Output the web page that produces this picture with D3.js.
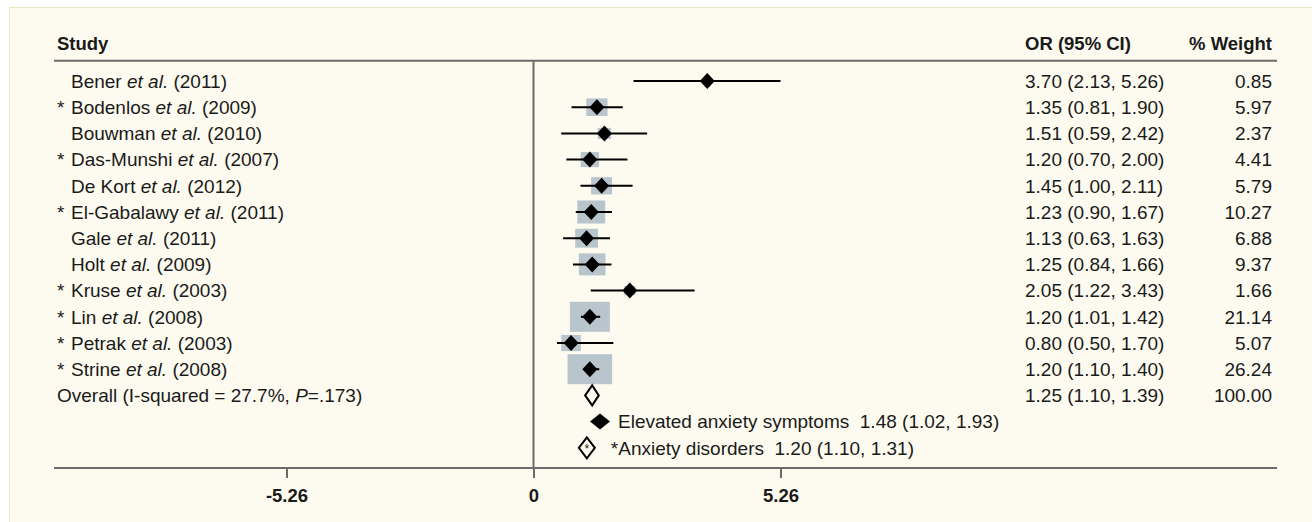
<!DOCTYPE html>
<html><head><meta charset="utf-8">
<script src="https://cdn.jsdelivr.net/npm/d3@7"></script>
<style>
html,body{margin:0;padding:0;background:#ffffff;}
svg{display:block;}
text{font-family:"Liberation Sans",Arial,sans-serif;fill:#1a1a1a;white-space:pre;}
</style></head><body>
<svg id="chart" width="1312" height="522"></svg>
<script>
// ---- data ----
const studies = ["Bener","Bodenlos","Bouwman","Das-Munshi","De Kort","El-Gabalawy","Gale","Holt","Kruse","Lin","Petrak","Strine"];
const years = ["2011","2009","2010","2007","2012","2011","2011","2009","2003","2008","2003","2008"];
const anxietyDisorder = [false,true,false,true,false,true,false,false,true,true,true,true];
const orValues = [3.70,1.35,1.51,1.20,1.45,1.23,1.13,1.25,2.05,1.20,0.80,1.20];
const ciLower = [2.13,0.81,0.59,0.70,1.00,0.90,0.63,0.84,1.22,1.01,0.50,1.10];
const ciUpper = [5.26,1.90,2.42,2.00,2.11,1.67,1.63,1.66,3.43,1.42,1.70,1.40];
const weights = [0.85,5.97,2.37,4.41,5.79,10.27,6.88,9.37,1.66,21.14,5.07,26.24];
const overall = {or:1.25, lo:1.10, hi:1.39, weight:100.00, i2:"27.7%", p:".173"};
const subgroupLabels = ["Elevated anxiety symptoms","*Anxiety disorders"];
const subgroupOR = [1.48,1.20];
const subgroupLo = [1.02,1.10];
const subgroupHi = [1.93,1.31];
const tickValues = [-5.26,0,5.26];
const tickLabels = ["-5.26","0","5.26"];

// ---- layout ----
const FS = 19;
const svg = d3.select("#chart");
const lineColor = "#6b6b6b";
svg.append("rect").attr("x",9.5).attr("y",7.5).attr("width",1320).attr("height",530)
  .attr("fill","#fdfbef").attr("stroke","#ece5c3").attr("stroke-width",1);

const x = d3.scaleLinear().domain([0,5.26]).range([533.5,780.5]);
const y = d3.scaleLinear().domain([0,1]).range([81,107.2]); // row index -> y
const boxW = d3.scaleSqrt().domain([0,1]).range([0,8.7]);
const boxH = d3.scaleSqrt().domain([0,1]).range([0,7.2]);
const left = 54, right = 1277, headerY = 60.7, axisY = 468;
const nameX = 71, starX = 57, orX = 1025, wX = 1272;

function fmt(v){return d3.format(".2f")(v);}

// header
svg.append("text").attr("x",57).attr("y",49.5).attr("font-weight","bold").attr("font-size",18.5).text("Study");
svg.append("text").attr("x",orX).attr("y",49.5).attr("font-weight","bold").attr("font-size",18.5).text("OR (95% CI)");
svg.append("text").attr("x",wX).attr("y",49.5).attr("font-weight","bold").attr("font-size",18.5).attr("text-anchor","end").text("% Weight");
svg.append("line").attr("x1",left).attr("x2",right).attr("y1",headerY).attr("y2",headerY)
  .attr("stroke",lineColor).attr("stroke-width",2);

// null line (vertical at 0)
svg.append("line").attr("x1",x(0)).attr("x2",x(0)).attr("y1",headerY).attr("y2",axisY)
  .attr("stroke",lineColor).attr("stroke-width",2);

const rows = studies.map((s,i)=>({name:s,year:years[i],star:anxietyDisorder[i],or:orValues[i],lo:ciLower[i],hi:ciUpper[i],w:weights[i],i}));
const base = 6.8;

// labels
const lab = svg.append("g");
rows.forEach(d=>{
  const yy = y(d.i)+base;
  if(d.star) lab.append("text").attr("x",starX).attr("y",yy).attr("font-size",FS).text("*");
  const t = lab.append("text").attr("x",nameX).attr("y",yy).attr("font-size",FS);
  t.append("tspan").text(d.name+" ");
  t.append("tspan").attr("font-style","italic").text("et al.");
  t.append("tspan").text(" ("+d.year+")");
  lab.append("text").attr("x",orX).attr("y",yy).attr("font-size",FS)
    .text(fmt(d.or)+" ("+fmt(d.lo)+", "+fmt(d.hi)+")");
  lab.append("text").attr("x",wX).attr("y",yy).attr("font-size",FS).attr("text-anchor","end").text(fmt(d.w));
});
// overall label
{
  const oi = studies.length;
  const yy = y(oi)+base;
  const t = lab.append("text").attr("x",57).attr("y",yy).attr("font-size",FS);
  t.append("tspan").text("Overall (I-squared = "+overall.i2+", ");
  t.append("tspan").attr("font-style","italic").text("P");
  t.append("tspan").text("="+overall.p+")");
  lab.append("text").attr("x",orX).attr("y",yy).attr("font-size",FS)
    .text(fmt(overall.or)+" ("+fmt(overall.lo)+", "+fmt(overall.hi)+")");
  lab.append("text").attr("x",wX).attr("y",yy).attr("font-size",FS).attr("text-anchor","end").text(fmt(overall.weight));
}

// boxes
svg.append("g").selectAll("rect").data(rows).join("rect")
  .attr("x",d=>x(d.or)-boxW(d.w)/2)
  .attr("y",d=>y(d.i)-Math.min(boxH(d.w),30)/2)
  .attr("width",d=>boxW(d.w))
  .attr("height",d=>Math.min(boxH(d.w),30))
  .attr("fill","#b9c5cd");
// CI lines
svg.append("g").selectAll("line").data(rows).join("line")
  .attr("x1",d=>x(d.lo)).attr("x2",d=>x(d.hi))
  .attr("y1",d=>y(d.i)).attr("y2",d=>y(d.i))
  .attr("stroke","#000").attr("stroke-width",2);
// diamonds
function diamond(cx,cy,hw,hh){return `M${cx-hw},${cy}L${cx},${cy-hh}L${cx+hw},${cy}L${cx},${cy+hh}Z`;}
svg.append("g").selectAll("path").data(rows).join("path")
  .attr("d",d=>diamond(x(d.or),y(d.i),7.5,8))
  .attr("fill","#000");
// overall diamond
{
  const oy = y(studies.length);
  svg.append("path")
    .attr("d",`M${x(overall.lo)},${oy}L${x(overall.or)},${oy-10}L${x(overall.hi)},${oy}L${x(overall.or)},${oy+10}Z`)
    .attr("fill","#fdfbef").attr("stroke","#000").attr("stroke-width",2);
}
// subgroup legend
subgroupLabels.forEach((lbl,k)=>{
  const yy = y(studies.length+1+k);
  const cx = x(subgroupOR[k]) - 3;
  const txt = lbl+"  "+fmt(subgroupOR[k])+" ("+fmt(subgroupLo[k])+", "+fmt(subgroupHi[k])+")";
  if(k===0){
    svg.append("path").attr("d",diamond(cx,yy,10,8)).attr("fill","#000");
    svg.append("text").attr("x",cx+18).attr("y",yy+base).attr("font-size",FS).text(txt);
  } else {
    svg.append("path").attr("d",diamond(cx,yy,8,10.5)).attr("fill","none").attr("stroke","#000").attr("stroke-width",2);
    svg.append("text").attr("x",cx).attr("y",yy+5).attr("font-size",12).attr("text-anchor","middle").text("*");
    svg.append("text").attr("x",cx+24).attr("y",yy+base).attr("font-size",FS).text(txt);
  }
});

// x axis
svg.append("line").attr("x1",left).attr("x2",right).attr("y1",axisY).attr("y2",axisY)
  .attr("stroke",lineColor).attr("stroke-width",2);
const axis = d3.axisBottom(x).tickValues(tickValues).tickSize(10).tickPadding(11)
  .tickFormat((d,i)=>tickLabels[i]);
const ag = svg.append("g").attr("transform",`translate(0,${axisY})`).call(axis);
ag.select(".domain").remove();
ag.selectAll(".tick line").attr("stroke",lineColor).attr("stroke-width",2);
ag.selectAll(".tick text").attr("font-size",18.5).attr("font-weight","bold")
  .attr("font-family","Liberation Sans, Arial, sans-serif").attr("fill","#1a1a1a");
</script>
</body></html>
